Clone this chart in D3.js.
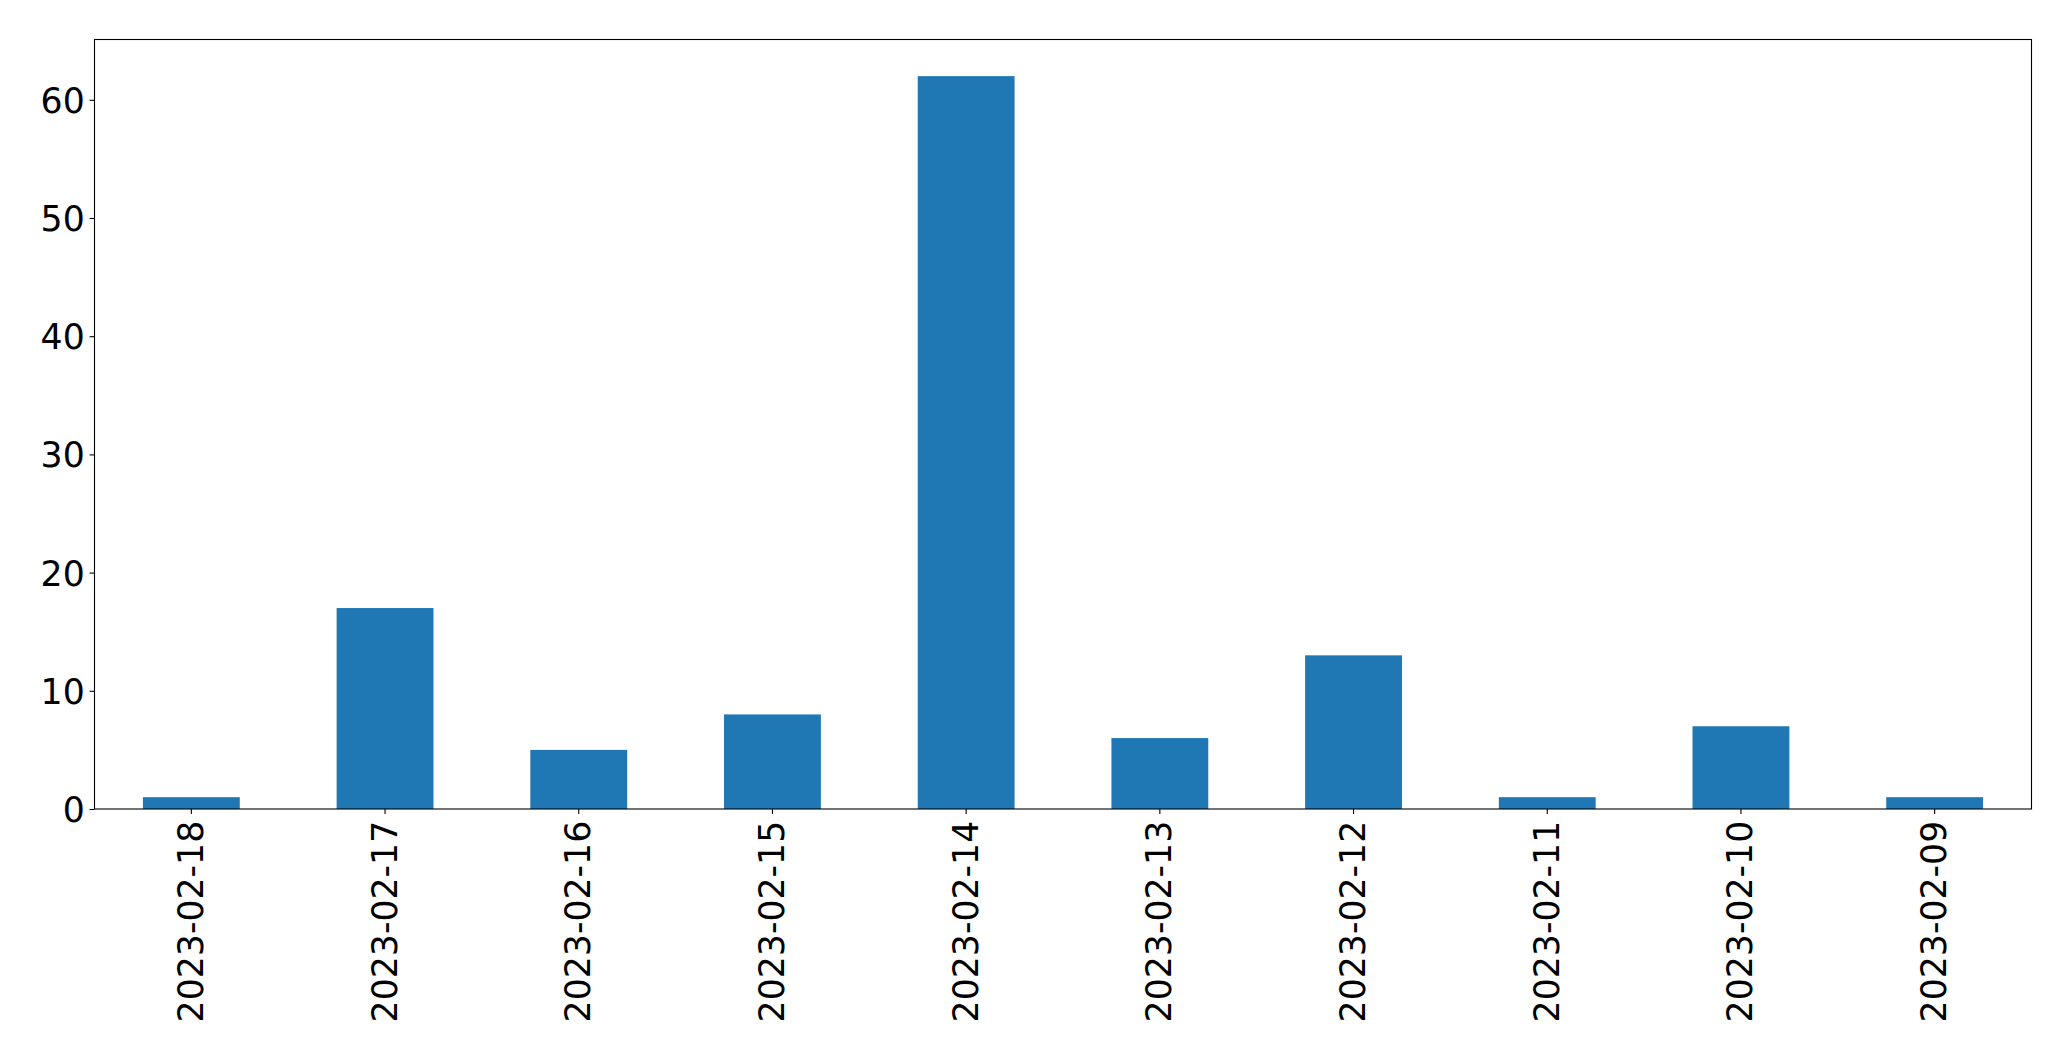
<!DOCTYPE html>
<html>
<head>
<meta charset="utf-8">
<script src="https://cdn.jsdelivr.net/npm/d3@7"></script>
<style>
html, body { margin: 0; padding: 0; background: #fff; }
svg { display: block; }
text { font-family: "DejaVu Sans", sans-serif; fill: #000; }
</style>
</head>
<body>
<svg id="chart" width="2071" height="1061"></svg>
<script>
const categories = ["2023-02-18", "2023-02-17", "2023-02-16", "2023-02-15", "2023-02-14",
                    "2023-02-13", "2023-02-12", "2023-02-11", "2023-02-10", "2023-02-09"];
const values = [1, 17, 5, 8, 62, 6, 13, 1, 7, 1];
const yTicks = [0, 10, 20, 30, 40, 50, 60];

(function () {
const plotLeft = 94.5, plotRight = 2031.5, plotTop = 39.5, plotBottom = 809;
const fontPx = 34.7;
const tickLen = 4.9, pad = 4.9;
const svg = d3.select("#chart");

const x = d3.scaleBand().domain(categories).range([plotLeft, plotRight])
  .paddingInner(0.5).paddingOuter(0.25);
const y = d3.scaleLinear().domain([0, d3.max(values) * 1.05]).range([plotBottom, plotTop]);

// bars
svg.append("g").selectAll("rect").data(values).join("rect")
  .attr("x", (d, i) => x(categories[i]))
  .attr("width", x.bandwidth())
  .attr("y", d => y(d))
  .attr("height", d => y(0) - y(d))
  .attr("fill", "#1f77b4");

// y axis
const yAxis = d3.axisLeft(y).tickValues(yTicks).tickSize(tickLen).tickPadding(pad).tickFormat(d3.format("d"));
const gy = svg.append("g").attr("transform", `translate(${plotLeft},0)`).call(yAxis);
gy.select(".domain").remove();
gy.selectAll(".tick line").attr("stroke", "#000").attr("stroke-width", 1.1);
gy.selectAll(".tick text").style("font-size", fontPx + "px").attr("font-family", "DejaVu Sans").attr("dy", "0.36em");

// x axis
const xAxis = d3.axisBottom(x).tickSize(tickLen).tickPadding(pad);
const gx = svg.append("g").attr("transform", `translate(0,${plotBottom})`).call(xAxis);
gx.select(".domain").remove();
gx.selectAll(".tick line").attr("stroke", "#000").attr("stroke-width", 1.1);
gx.selectAll(".tick text")
  .style("font-size", fontPx + "px")
  .attr("font-family", "DejaVu Sans")
  .attr("text-anchor", "end")
  .attr("transform", "rotate(-90)")
  .attr("x", -(tickLen + pad + 2))
  .attr("y", 0)
  .attr("dy", "0.33em");

// frame
svg.append("rect")
  .attr("x", plotLeft).attr("y", plotTop)
  .attr("width", plotRight - plotLeft).attr("height", plotBottom - plotTop)
  .attr("fill", "none").attr("stroke", "#000").attr("stroke-width", 1.1);
})();
</script>
</body>
</html>
